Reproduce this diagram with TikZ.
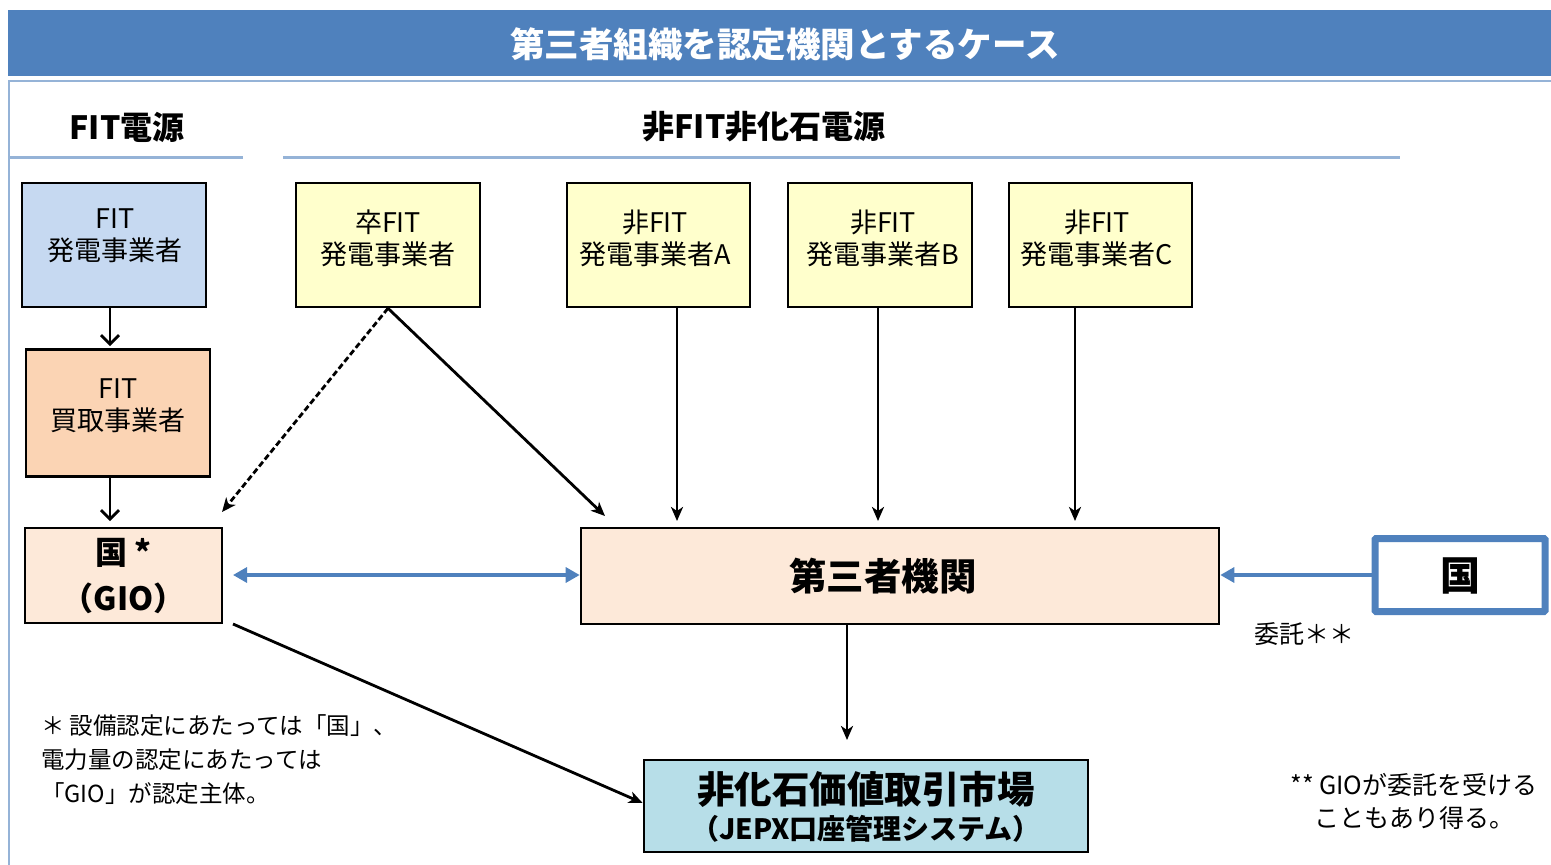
\documentclass[tikz,border=0pt]{standalone}
\usepackage{fontspec}
\setmainfont{Noto Sans CJK JP}
\usetikzlibrary{arrows.meta}
\definecolor{titleblue}{HTML}{4F81BD}
\definecolor{framecol}{HTML}{95B3D7}
\definecolor{fitblue}{HTML}{C6D9F1}
\definecolor{fitorange}{HTML}{FBD4B4}
\definecolor{paleorange}{HTML}{FDE9D9}
\definecolor{paleyellow}{HTML}{FFFFCC}
\definecolor{jepxblue}{HTML}{B7DEE8}
\begin{document}
\begin{tikzpicture}[x=1pt,y=-1pt,
  box/.style={draw=black,line width=2.6pt,inner sep=0pt},
  boxtext/.style={align=center,font=\fontsize{27}{32}\selectfont,inner sep=0pt},
  arr/.style={line width=2.8pt,-{Stealth[length=14pt,width=12pt,inset=4pt]}},
  vee/.style={line width=2.8pt,-{Straight Barb[length=9pt,width=18pt]}},
  bluearr/.style={draw=titleblue,line width=3.2pt},
  note/.style={align=left,font=\fontsize{23.5}{34}\selectfont,inner sep=0pt},
  header/.style={font=\bfseries\fontsize{32}{36}\selectfont,inner sep=0pt}]
\useasboundingbox (0,0) rectangle (1551,865);
% title bar
\node[fill=titleblue,minimum width=1543pt,minimum height=66pt,inner sep=0pt,anchor=north west] (titlebar) at (8,10) {};
\node[text=white,font=\bfseries\fontsize{34.5}{40}\selectfont,inner sep=0pt] (title) at (785,44) {第三者組織を認定機関とするケース};
% frame
\draw[framecol,line width=2.5pt] (9,865) -- (9,81) -- (1551,81);
% headers
\node[header] (h1) at (127,127) {FIT電源};
\node[header] (h2) at (764,127) {非FIT非化石電源};
\draw[framecol,line width=3pt] (10,157) -- (243,157);
\draw[framecol,line width=3pt] (283,157) -- (1400,157);
% boxes
\node[box,fill=fitblue,minimum width=184pt,minimum height=124pt] (fitgen) at (114,245) {};
\node[boxtext] (fitgenT) at (115,236) {FIT\\発電事業者};
\node[box,fill=fitorange,minimum width=184pt,minimum height=127pt] (fitbuy) at (118,413) {};
\node[boxtext] (fitbuyT) at (118,406) {FIT\\買取事業者};
\node[box,fill=paleorange,minimum width=197pt,minimum height=95pt] (gio) at (123.5,575.5) {};
\node[align=center,font=\bfseries\fontsize{32}{46}\selectfont,inner sep=0pt] (gioT) at (123.5,576) {国 *\\（GIO）};
\node[box,fill=paleyellow,minimum width=184pt,minimum height=124pt] (sotsu) at (388,245) {};
\node[boxtext] (sotsuT) at (388,238) {卒FIT\\発電事業者};
\node[box,fill=paleyellow,minimum width=183pt,minimum height=124pt] (ga) at (658.5,245) {};
\node[boxtext] (gaT) at (655,238) {非FIT\\発電事業者A};
\node[box,fill=paleyellow,minimum width=184pt,minimum height=124pt] (gb) at (880,245) {};
\node[boxtext] (gbT) at (883,238) {非FIT\\発電事業者B};
\node[box,fill=paleyellow,minimum width=183pt,minimum height=124pt] (gc) at (1100.5,245) {};
\node[boxtext] (gcT) at (1097,238) {非FIT\\発電事業者C};
\node[box,fill=paleorange,minimum width=638pt,minimum height=96pt] (third) at (900,576) {};
\node[font=\bfseries\fontsize{37.5}{40}\selectfont,inner sep=0pt] (thirdT) at (883,576) {第三者機関};
\node[draw=titleblue,line width=7pt,fill=white,minimum width=170pt,minimum height=73pt,inner sep=0pt,rounded corners=1pt] (kuni) at (1460,575) {};
\node[font=\bfseries\fontsize{40}{44}\selectfont,inner sep=0pt] (kuniT) at (1460,576) {国};
\node[box,fill=jepxblue,minimum width=444pt,minimum height=92pt] (jepx) at (866,806) {};
\node[font=\bfseries\fontsize{37.5}{40}\selectfont,inner sep=0pt] (jepxT1) at (866,789) {非化石価値取引市場};
\node[font=\bfseries\fontsize{28}{30}\selectfont,inner sep=0pt] (jepxT2) at (866,829) {（JEPX口座管理システム）};
% texts
\node[font=\fontsize{25}{30}\selectfont,inner sep=0pt,anchor=west] (itaku) at (1254,634) {委託＊＊};
\node[note,anchor=north west] (note1) at (41,714) {＊ 設備認定にあたっては「国」、\\電力量の認定にあたっては\\「GIO」が認定主体。};
\node[align=center,font=\fontsize{25}{33}\selectfont,inner sep=0pt,anchor=north] (note2) at (1414,773) {** GIOが委託を受ける\\こともあり得る。};
% connectors
\draw[vee] (fitgen.south -| 110,0) -- (110,346);
\draw[vee] (fitbuy.south -| 110,0) -- (110,521);
\draw[arr,dashed,dash pattern=on 6pt off 3pt] (sotsu.south) -- (222,512);
\draw[arr] (sotsu.south) -- (605,516);
\draw[arr] (677,308) -- (677,521);
\draw[arr] (878,308) -- (878,521);
\draw[arr] (1075,308) -- (1075,521);
\draw[arr] (third.south -| 847,0) -- (847,740);
\draw[arr] (233,624) -- (jepx.west |- 0,803);
\draw[bluearr,{Triangle[length=14pt,width=15pt]}-{Triangle[length=14pt,width=15pt]}] (233,575) -- (third.west |- 0,575);
\draw[bluearr,-{Triangle[length=14pt,width=15pt]}] (kuni.west) -- (third.east |- 0,575);
\end{tikzpicture}
\end{document}
